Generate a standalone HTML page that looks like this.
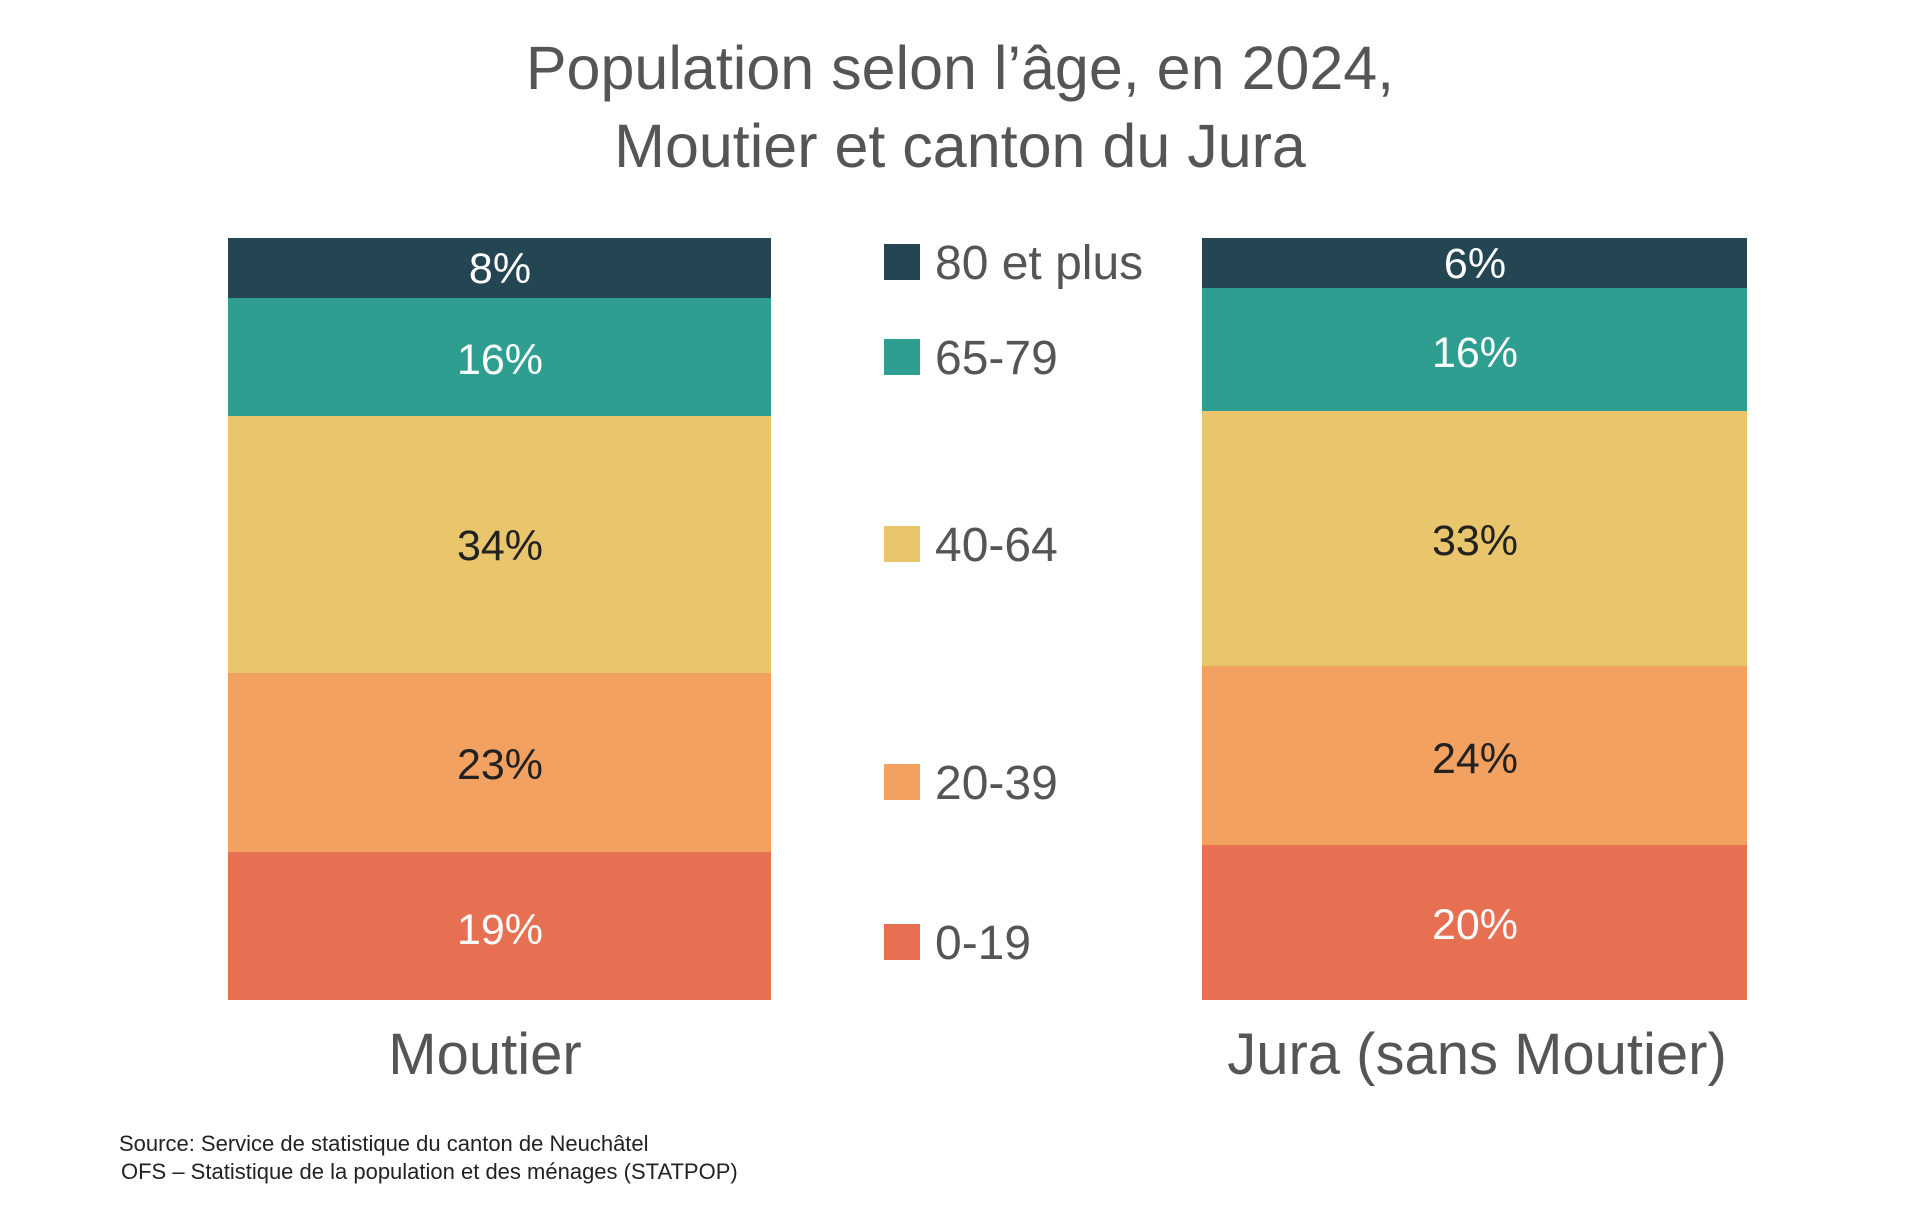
<!DOCTYPE html>
<html><head><meta charset="utf-8"><style>
body{margin:0;background:#fff;}
svg text{font-family:"Liberation Sans",sans-serif;}
</style></head><body>
<svg width="1920" height="1222" viewBox="0 0 1920 1222" xmlns="http://www.w3.org/2000/svg">
<g fill="#555" font-size="61" text-anchor="middle">
<text x="960" y="89">Population selon l’âge, en 2024,</text>
<text x="960" y="167">Moutier et canton du Jura</text>
</g>
<rect x="228" y="238" width="543" height="60" fill="#244653"/>
<rect x="228" y="298" width="543" height="118" fill="#2d9e8f"/>
<rect x="228" y="416" width="543" height="257" fill="#e9c56b"/>
<rect x="228" y="673" width="543" height="179" fill="#f3a161"/>
<rect x="228" y="852" width="543" height="148" fill="#e87052"/>
<rect x="1202" y="238" width="545" height="50" fill="#244653"/>
<rect x="1202" y="288" width="545" height="123" fill="#2d9e8f"/>
<rect x="1202" y="411" width="545" height="255" fill="#e9c56b"/>
<rect x="1202" y="666" width="545" height="179" fill="#f3a161"/>
<rect x="1202" y="845" width="545" height="155" fill="#e87052"/>
<g font-size="43" text-anchor="middle">
<text x="500" y="283" fill="#fff">8%</text>
<text x="500" y="374" fill="#fff">16%</text>
<text x="500" y="560" fill="#222">34%</text>
<text x="500" y="779" fill="#222">23%</text>
<text x="500" y="944" fill="#fff">19%</text>
<text x="1475" y="278" fill="#fff">6%</text>
<text x="1475" y="367" fill="#fff">16%</text>
<text x="1475" y="555" fill="#222">33%</text>
<text x="1475" y="773" fill="#222">24%</text>
<text x="1475" y="939" fill="#fff">20%</text>
</g>
<rect x="884" y="244" width="36" height="36" fill="#244653"/>
<rect x="884" y="339" width="36" height="36" fill="#2d9e8f"/>
<rect x="884" y="526" width="36" height="36" fill="#e9c56b"/>
<rect x="884" y="764" width="36" height="36" fill="#f3a161"/>
<rect x="884" y="924" width="36" height="36" fill="#e87052"/>
<g font-size="48" fill="#555">
<text x="935" y="279">80 et plus</text>
<text x="935" y="374">65-79</text>
<text x="935" y="561">40-64</text>
<text x="935" y="799">20-39</text>
<text x="935" y="959">0-19</text>
</g>
<g font-size="58" fill="#555" text-anchor="middle">
<text x="485" y="1074">Moutier</text>
<text x="1477" y="1074">Jura (sans Moutier)</text>
</g>
<g font-size="22" fill="#222">
<text x="119" y="1151">Source: Service de statistique du canton de Neuchâtel</text>
<text x="121" y="1179">OFS – Statistique de la population et des ménages (STATPOP)</text>
</g>
</svg>
</body></html>
